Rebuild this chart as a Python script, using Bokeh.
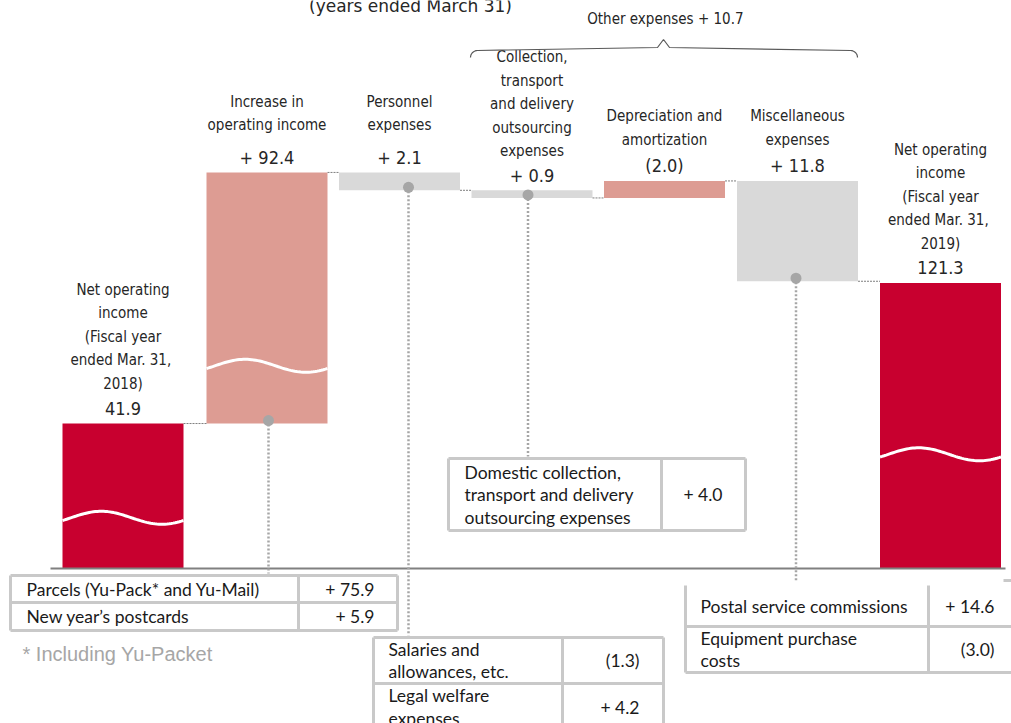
import numpy as np
from bokeh.plotting import figure
from bokeh.models import Range1d
from bokeh.core.properties import value
from bokeh.embed import file_html
from bokeh.resources import INLINE

# ---------------- data ----------------
title_text = "(years ended March 31)"
start_label = ["Net operating", "income", "(Fiscal year", " ended Mar. 31,", "2018)"]
start_value = 41.9
increase_label = ["Increase in", "operating income"]
increase_value = 92.4
expense_labels = [
    ["Personnel", "expenses"],
    ["Collection,", "transport", "and delivery", "outsourcing", "expenses"],
    ["Depreciation and", "amortization"],
    ["Miscellaneous", "expenses"],
]
expense_values = [2.1, 0.9, -2.0, 11.8]
end_label = ["Net operating", "income", "(Fiscal year", " ended Mar. 31,", "2019)"]
end_value = 121.3
other_expenses_label = "Other expenses"
other_expenses_value = 10.7

parcel_items = [["Parcels (Yu-Pack* and Yu-Mail)"], ["New year’s postcards"]]
parcel_values = [75.9, 5.9]
collection_items = [["Domestic collection,", "transport and delivery", "outsourcing expenses"]]
collection_values = [4.0]
personnel_items = [["Salaries and", "allowances, etc."], ["Legal welfare", "expenses"]]
personnel_values = [-1.3, 4.2]
misc_items = [["Postal service commissions"], ["Equipment purchase", "costs"]]
misc_values = [14.6, -3.0]
footnote = "* Including Yu-Packet"

# ---------------- style / layout ----------------
RED = "#C8002F"
SALMON = "#DD9C93"
GRAY = "#D9D9D9"
DOT = "#A6A6A6"
TXT = "#262626"
NARROW = value("Liberation Sans Narrow, DejaVu Sans Condensed, sans-serif")
TABLE_FONT = value("Lato")
BORDER = "#C9C9C9"

# broken value scale (value -> screen position)
BRK_V = [0, 50, 115, 145]
BRK_PX = [568, 395, 336, 81]


def ypx(v):
    return float(np.interp(v, BRK_V, BRK_PX))


def fmt(v):
    return "+ %.1f" % v if v >= 0 else "(%.1f)" % abs(v)


CENTERS = [122.5, 266.5, 399, 531.5, 664, 797, 940]
BAR_W = 121

p = figure(width=1011, height=723, x_range=Range1d(0, 1011), y_range=Range1d(723, 0),
           output_backend="svg", toolbar_location=None, min_border=0,
           x_axis_location=None, y_axis_location=None)
p.xgrid.visible = False
p.ygrid.visible = False
p.outline_line_color = None
p.background_fill_color = "white"
p.border_fill_color = "white"

# ---------------- waterfall ----------------
run = start_value + increase_value
bottoms = [0, start_value]
tops = [start_value, run]
colors = [RED, SALMON]
levels = [start_value, run]
for e in expense_values:
    new = run - e
    bottoms.append(min(run, new))
    tops.append(max(run, new))
    colors.append(GRAY if e > 0 else SALMON)
    run = new
    levels.append(run)
bottoms.append(0)
tops.append(end_value)
colors.append(RED)

lefts = [c - BAR_W / 2 for c in CENTERS]
rights = [c + BAR_W / 2 for c in CENTERS]
p.quad(left=lefts, right=rights, top=[ypx(t) for t in tops], bottom=[ypx(b) for b in bottoms],
       fill_color=colors, line_color=None)

# connectors
p.segment(x0=rights[:-1], x1=lefts[1:], y0=[ypx(l) for l in levels], y1=[ypx(l) for l in levels],
          line_color="#7F7F7F", line_width=1, line_dash="2 1")

# baseline
p.segment(x0=[50], x1=[1005], y0=[ypx(0)], y1=[ypx(0)], line_color="#808080", line_width=2)

# break waves
wave_bars = [0, 1, 6]
wave_frac = [0.35, 0.23, 0.40]
for i, f in zip(wave_bars, wave_frac):
    yb, yt = ypx(bottoms[i]), ypx(tops[i])
    yc = yb - f * (yb - yt)
    t = np.linspace(0, 1, 60)
    xs = lefts[i] + t * (rights[i] - lefts[i])
    ys = yc - 6.5 * np.sin(2 * np.pi * (t - 0.07))
    p.line(xs, ys, line_color="white", line_width=3)

# labels above bars
all_labels = [start_label, increase_label] + expense_labels + [end_label]
all_values = ["%.1f" % start_value, fmt(increase_value)] + [fmt(e) for e in expense_values] + ["%.1f" % end_value]
gaps = [25, 32, 32, 24, 26, 26, 24]
lx, ly, lt, vx, vy, vt = [], [], [], [], [], []
for i, (lab, val) in enumerate(zip(all_labels, all_values)):
    top_px = ypx(tops[i])
    v_y = top_px - 15
    vx.append(CENTERS[i]); vy.append(v_y); vt.append(val)
    n = len(lab)
    for k, line in enumerate(lab):
        lx.append(CENTERS[i]); lt.append(line)
        ly.append(v_y - gaps[i] - (n - 1 - k) * 23.5)
p.text(x=lx, y=ly, text=lt, text_font=NARROW, text_font_size="15px", text_color=TXT,
       text_align="center", text_baseline="middle")
p.text(x=vx, y=vy, text=vt, text_font=NARROW, text_font_size="18px", text_color=TXT,
       text_align="center", text_baseline="middle")

# dots & dotted leaders
dot_bars = [1, 2, 3, 5]
dot_dx = [1.5, 9, -4, -1.5]
dot_end = [573, 635, 456, 580]
dxs = [CENTERS[i] + d for i, d in zip(dot_bars, dot_dx)]
dys = [ypx(bottoms[i]) - 3 for i in dot_bars]
p.segment(x0=dxs, x1=dxs, y0=dys, y1=dot_end, line_color=DOT, line_width=2.5, line_dash="2 2")
p.scatter(x=dxs, y=dys, size=11, fill_color=DOT, line_color=None)

# title (cut at top, as in the source) and brace
p.text(x=[410], y=[5], text=[title_text], text_font=value("DejaVu Sans"), text_font_size="17px",
       text_color=TXT, text_align="center", text_baseline="alphabetic")
p.text(x=[667], y=[18], text=[other_expenses_label + "  " + fmt(other_expenses_value)],
       text_font=NARROW, text_font_size="15px", text_color=TXT, text_align="center",
       text_baseline="middle")
a = np.linspace(0, np.pi / 2, 10)
r = 7
bx = list(470 + r - r * np.cos(a)) + [657, 663, 669] + list(857 - r + r * np.cos(a[::-1]))
by = list(57 - r * np.sin(a)) + [47, 39, 47] + list(57 - r * np.sin(a[::-1]))
by[0] = 57
p.line(bx, by, line_color="#595959", line_width=1.2)


# ---------------- tables ----------------
def table(x0, x1, xdiv, rows, items, vals, tx, vx_right, draw_top=True, right_edge=True):
    segs = []
    ylast = min(rows[-1], 723)
    if draw_top:
        segs.append((x0, rows[0], x1, rows[0]))
    for yy in rows[1:]:
        if yy <= 723:
            segs.append((x0, yy, x1, yy))
    segs.append((x0, rows[0], x0, ylast))
    segs.append((xdiv, rows[0], xdiv, ylast))
    if right_edge:
        segs.append((x1, rows[0], x1, ylast))
    p.segment(x0=[s[0] for s in segs], y0=[s[1] for s in segs], x1=[s[2] for s in segs],
              y1=[s[3] for s in segs], line_color=BORDER, line_width=3)
    txs, tys, tts = [], [], []
    for k, (it, v) in enumerate(zip(items, vals)):
        yc = (rows[k] + rows[k + 1]) / 2
        n = len(it)
        for j, line in enumerate(it):
            txs.append(tx); tts.append(line)
            tys.append(yc + (j - (n - 1) / 2) * 22.5)
        p.text(x=[vx_right], y=[yc], text=[fmt(v)], text_font=TABLE_FONT, text_font_size="17.5px",
               text_color="#1a1a1a", text_align="right", text_baseline="middle")
    p.text(x=txs, y=tys, text=tts, text_font=TABLE_FONT, text_font_size="17.5px",
           text_color="#1a1a1a", text_align="left", text_baseline="middle")


table(10, 397, 298, [575, 602, 630], parcel_items, parcel_values, 26, 374)
table(448, 745, 661, [458, 530], collection_items, collection_values, 464, 722)
table(373, 663, 562, [637, 683, 730], personnel_items, personnel_values, 388, 639)
table(685, 1011, 928, [585, 626, 672], misc_items, misc_values, 700, 994,
      draw_top=False, right_edge=False)
p.segment(x0=[1003], x1=[1011], y0=[580], y1=[580], line_color=BORDER, line_width=3)

p.text(x=[22], y=[653], text=[footnote], text_font=value("Liberation Sans"), text_font_size="20px",
       text_color="#A6A6A6", text_align="left", text_baseline="middle")

open("out.html", "w").write(file_html(p, INLINE))
